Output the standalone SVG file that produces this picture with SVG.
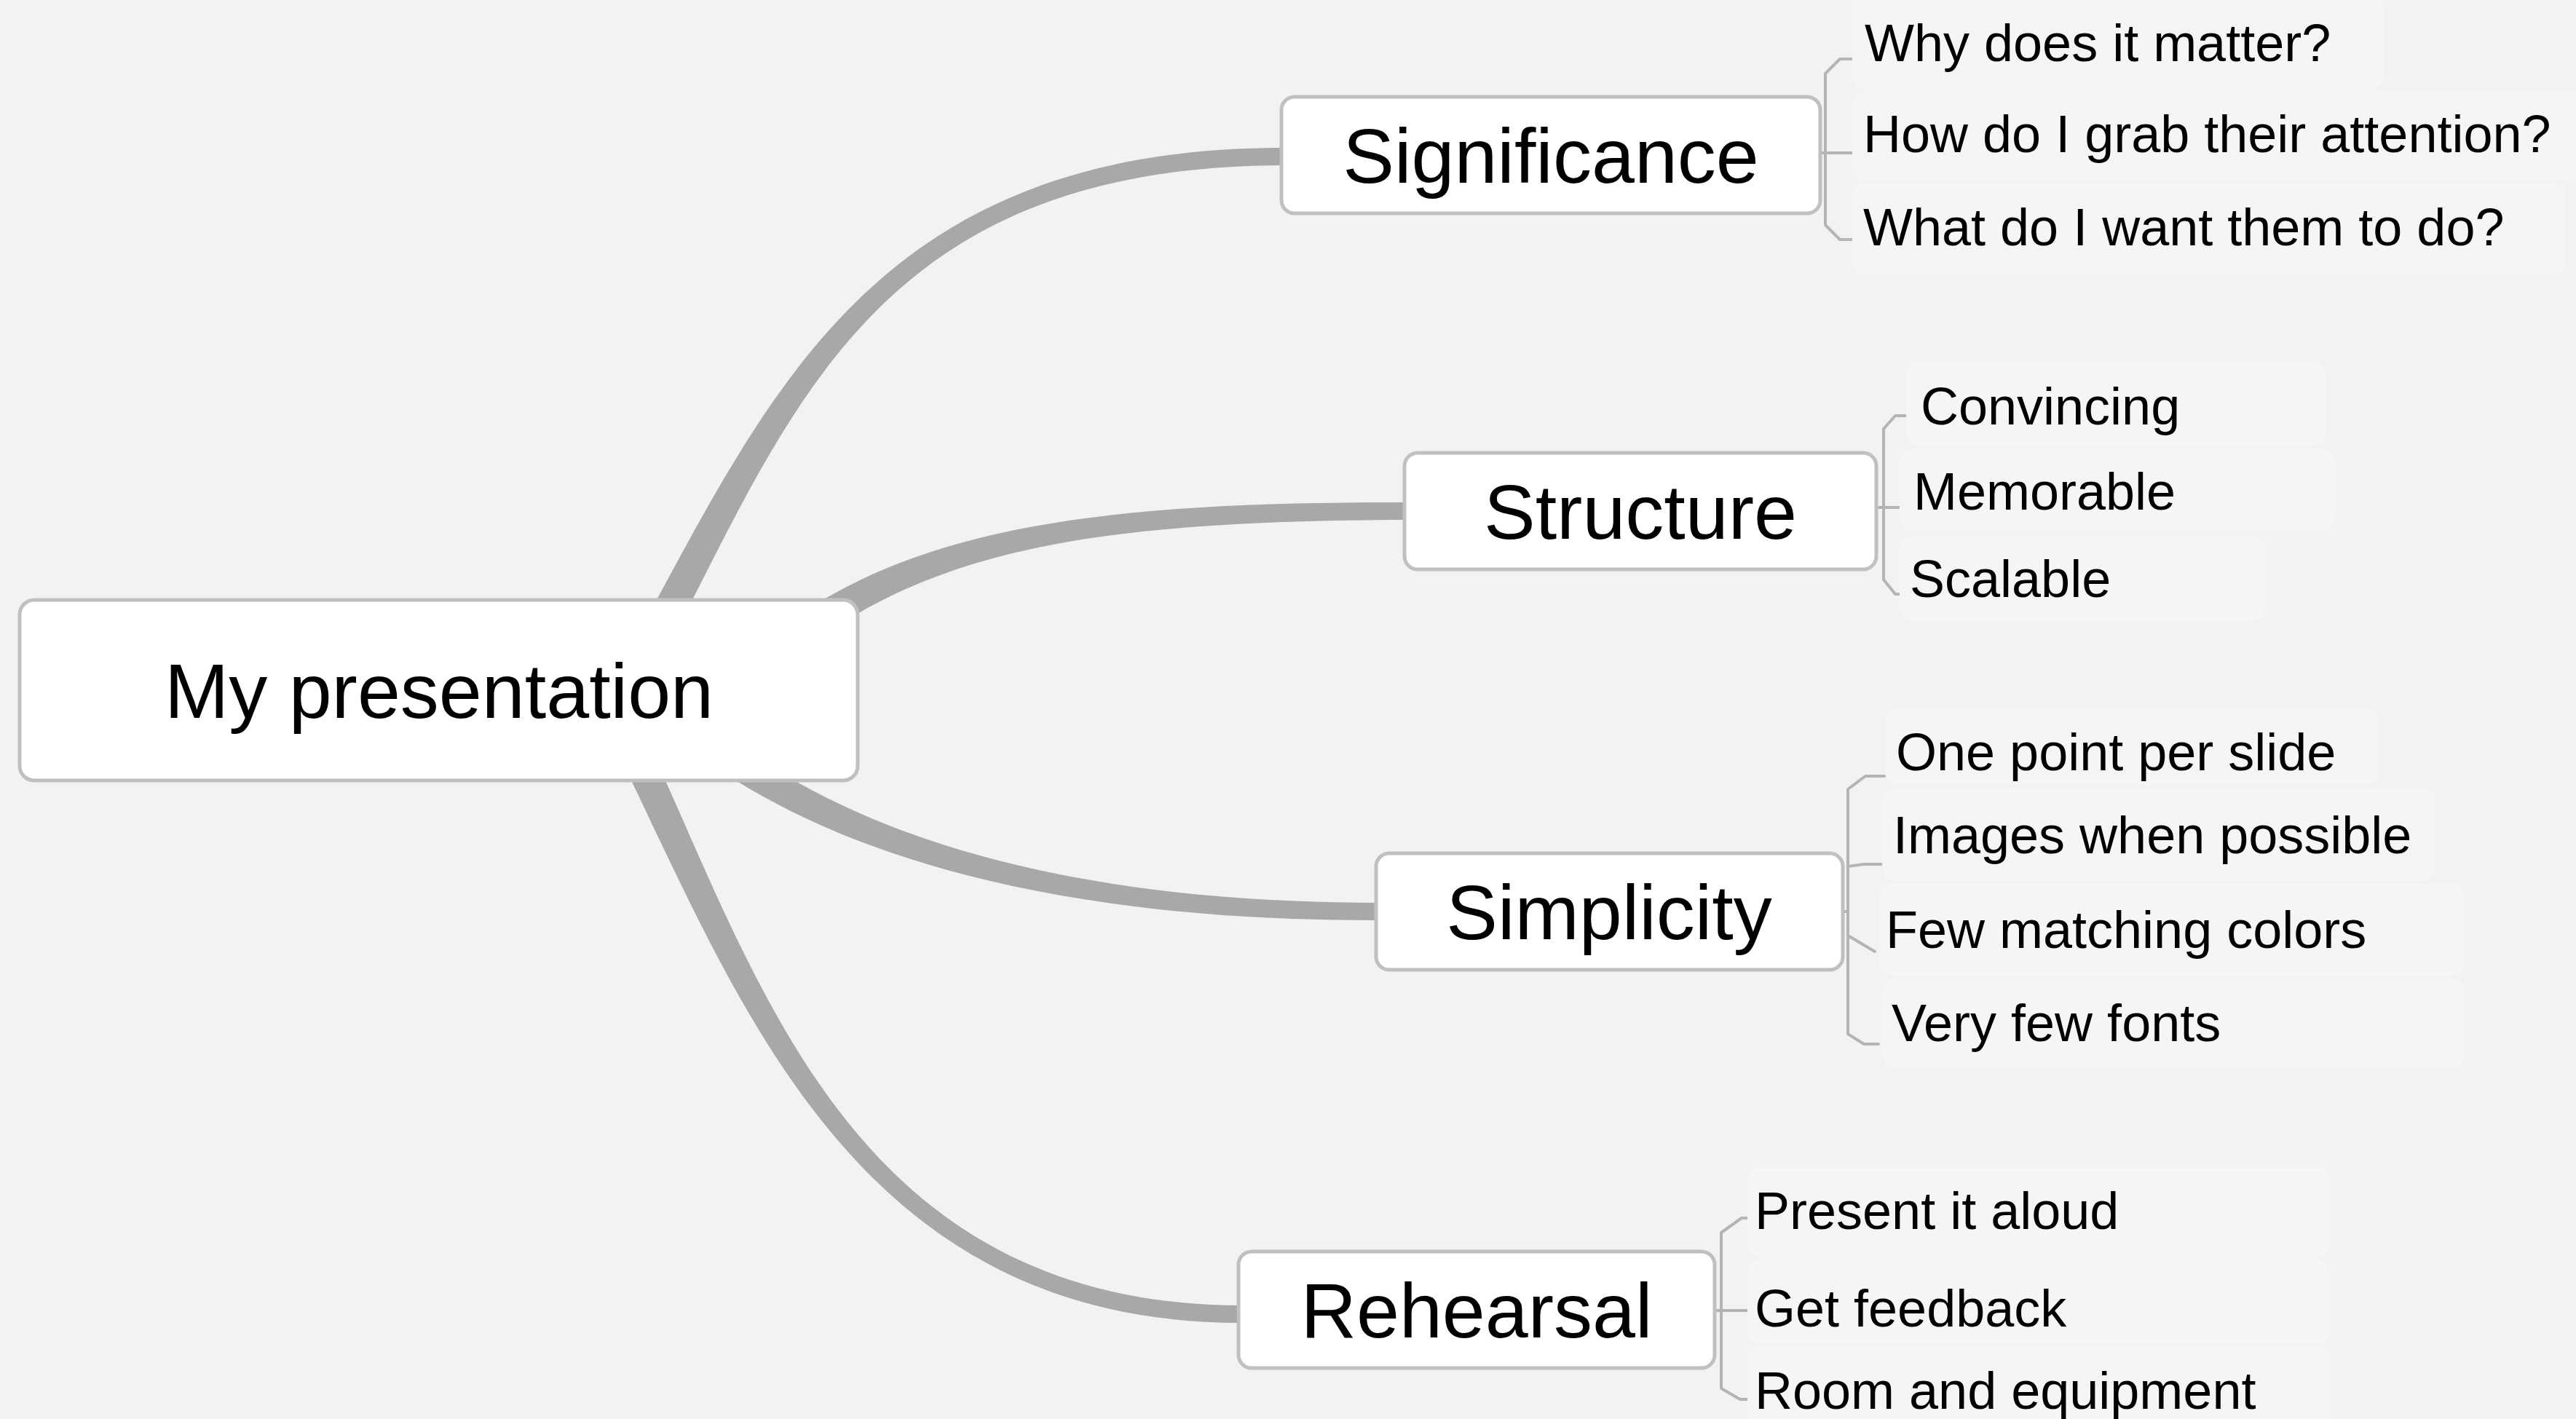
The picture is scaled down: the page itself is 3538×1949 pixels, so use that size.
<svg xmlns="http://www.w3.org/2000/svg" width="3538" height="1949" viewBox="0 0 3538 1949">
<style>
.bg{fill:#f2f2f2}
.conn{fill:#a8a8a8;stroke:none}
.brk{fill:none;stroke:#b4b4b4;stroke-width:4;stroke-linejoin:round;stroke-linecap:round}
.box{fill:#ffffff;stroke:#c0c0c0;stroke-width:5}
.sub{fill:#f5f5f5;stroke:none}
.t1{font-family:"Liberation Sans",Arial,Helvetica,sans-serif;font-size:106px;fill:#000;text-anchor:middle}
.t2{font-family:"Liberation Sans",Arial,Helvetica,sans-serif;font-size:72px;fill:#000}
</style>
<rect class="bg" x="0" y="0" width="3538" height="1949"/>

<g id="connectors">
  <path class="conn" d="M 879.8 960.2 C 1077.2 600.7 1170 228 1765 227 L 1765 203 C 1170 202 1042.8 579.3 840.2 935.8 Z"/>
  <path class="conn" d="M 1074.1 917.1 C 1262.2 754.8 1500 715 1935 714 L 1935 690 C 1500 689 1237.8 725.2 1045.9 882.9 Z"/>
  <path class="conn" d="M 946.5 1027.6 C 1138.4 1175.3 1450 1265 1895 1264 L 1895 1240 C 1450 1239 1161.6 1144.7 973.5 992.4 Z"/>
  <path class="conn" d="M 809.9 958.7 C 992.5 1299.3 1130 1818 1706 1817 L 1706 1793 C 1130 1792 1027.5 1280.7 850.1 937.3 Z"/>
  <path class="brk" d="M 2547 81 H 2527 L 2507 101 V 309 L 2527 329 H 2547 M 2500 210 H 2545"/>
  <path class="brk" d="M 2618 571 H 2603 L 2587 589 V 796 L 2603 816 H 2618 M 2577 697 H 2618"/>
  <path class="brk" d="M 2588 1066 H 2562 L 2538 1084 V 1420 L 2560 1434 H 2580 M 2538 1190 L 2560 1187 H 2588 M 2538 1285 L 2575 1307 M 2531 1252 H 2538"/>
  <path class="brk" d="M 2405 1673 H 2392 L 2364 1693 V 1907 L 2390 1922 H 2405 M 2355 1800 H 2402"/>
</g>

<g id="root">
  <rect class="box" x="27" y="824" width="1151" height="248" rx="20"/>
  <text class="t1" x="603" y="986">My presentation</text>
</g>

<g id="significance">
  <rect class="box" x="1760" y="133" width="740" height="160" rx="18"/>
  <text class="t1" x="2130" y="251">Significance</text>
</g>
<g id="sig-why">
  <rect class="sub" x="2544" y="-10" width="730" height="132" rx="18"/>
  <text class="t2" x="2561" y="84">Why does it matter?</text>
</g>
<g id="sig-how">
  <rect class="sub" x="2544" y="124" width="1010" height="124" rx="18"/>
  <text class="t2" x="2559" y="209">How do I grab their attention?</text>
</g>
<g id="sig-what">
  <rect class="sub" x="2544" y="250" width="980" height="127" rx="18"/>
  <text class="t2" x="2559" y="337">What do I want them to do?</text>
</g>

<g id="structure">
  <rect class="box" x="1929" y="622" width="648" height="160" rx="18"/>
  <text class="t1" x="2253" y="740">Structure</text>
</g>
<g id="str-convincing">
  <rect class="sub" x="2618" y="495" width="576" height="118" rx="18"/>
  <text class="t2" x="2638" y="583">Convincing</text>
</g>
<g id="str-memorable">
  <rect class="sub" x="2609" y="617" width="598" height="111" rx="18"/>
  <text class="t2" x="2628" y="700">Memorable</text>
</g>
<g id="str-scalable">
  <rect class="sub" x="2609" y="737" width="504" height="116" rx="18"/>
  <text class="t2" x="2623" y="820">Scalable</text>
</g>

<g id="simplicity">
  <rect class="box" x="1890" y="1172" width="641" height="160" rx="18"/>
  <text class="t1" x="2210" y="1290">Simplicity</text>
</g>
<g id="sim-one">
  <rect class="sub" x="2590" y="972" width="678" height="106" rx="18"/>
  <text class="t2" x="2604" y="1058">One point per slide</text>
</g>
<g id="sim-images">
  <rect class="sub" x="2585" y="1082" width="760" height="128" rx="18"/>
  <text class="t2" x="2600" y="1172">Images when possible</text>
</g>
<g id="sim-colors">
  <rect class="sub" x="2580" y="1213" width="805" height="127" rx="18"/>
  <text class="t2" x="2590" y="1302">Few matching colors</text>
</g>
<g id="sim-fonts">
  <rect class="sub" x="2585" y="1343" width="800" height="124" rx="18"/>
  <text class="t2" x="2598" y="1430">Very few fonts</text>
</g>

<g id="rehearsal">
  <rect class="box" x="1701" y="1719" width="654" height="160" rx="18"/>
  <text class="t1" x="2028" y="1837">Rehearsal</text>
</g>
<g id="reh-aloud">
  <rect class="sub" x="2400" y="1602" width="800" height="125" rx="18"/>
  <text class="t2" x="2410" y="1688">Present it aloud</text>
</g>
<g id="reh-feedback">
  <rect class="sub" x="2400" y="1729" width="800" height="117" rx="18"/>
  <text class="t2" x="2410" y="1822">Get feedback</text>
</g>
<g id="reh-room">
  <rect class="sub" x="2400" y="1848" width="800" height="120" rx="18"/>
  <text class="t2" x="2410" y="1935">Room and equipment</text>
</g>
</svg>
